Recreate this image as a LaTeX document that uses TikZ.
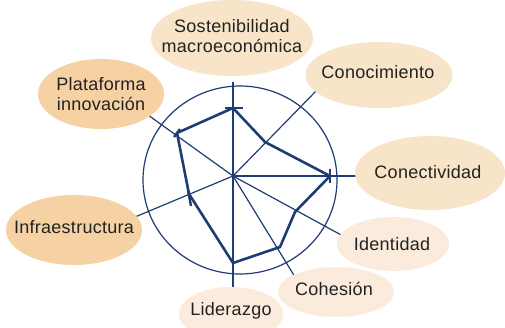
\documentclass[tikz,border=0pt]{standalone}
\usepackage{fontspec}
\setmainfont{Liberation Sans}[LetterSpace=1.5]
\usetikzlibrary{shapes.geometric}
\definecolor{navy}{HTML}{1F3C74}
\definecolor{beige}{HTML}{F8E4C8}
\definecolor{orangeb}{HTML}{F5D1A3}
\definecolor{lightb}{HTML}{FBEBDC}
\definecolor{txt}{HTML}{222222}
\tikzset{
  lab/.style={ellipse, inner sep=0pt, outer sep=0pt},
  labtext/.style={text=txt, align=center, inner sep=0pt,
    font=\fontsize{18}{20}\selectfont},
  axisline/.style={navy, line width=1.2pt},
  datapoly/.style={navy, line width=2.6pt, line join=round},
  tickmark/.style={navy, line width=2.4pt},
}
\begin{document}
\begin{tikzpicture}[x=1pt,y=-1pt]
\useasboundingbox (0,0) rectangle (505,328);
\fill[white] (0,0) rectangle (505,328);
% centre and axis end points
\coordinate (O) at (233,176);
\coordinate (eS) at (233,82);
\coordinate (eCo) at (318,89);
\coordinate (eCn) at (360,176);
\coordinate (eId) at (343,236);
\coordinate (eCh) at (295,277);
\coordinate (eLi) at (233,290);
\coordinate (eIn) at (135,217);
\coordinate (ePl) at (148,115);
% circle
\draw[axisline] (240,180) ellipse [x radius=97, y radius=94];
% axes
\foreach \e in {eS,eCo,eCn,eId,eCh,eLi,eIn,ePl}
  \draw[axisline] (O) -- (\e);
% data polygon
\coordinate (p1) at (233,108);
\coordinate (p2) at (265,142);
\coordinate (p3) at (330,176);
\coordinate (p4) at (295,212);
\coordinate (p5) at (280,247);
\coordinate (p6) at (233,263);
\coordinate (p7) at (189,194);
\coordinate (p8) at (177,133);
\draw[datapoly] (p1) -- (p2) -- (p3) -- (p4) -- (p5) -- (p6) -- (p7) -- (p8) -- cycle;
% ticks
\coordinate (t1a) at (225,108); \coordinate (t1b) at (243,108);
\coordinate (t3a) at (330,169); \coordinate (t3b) at (330,183);
\coordinate (t7a) at (188,190); \coordinate (t7b) at (191,206);
\coordinate (t8a) at (174,137); \coordinate (t8b) at (180,129);
\draw[tickmark] (t1a) -- (t1b);
\draw[tickmark] (t3a) -- (t3b);
\draw[tickmark] (t7a) -- (t7b);
\draw[tickmark] (t8a) -- (t8b);
% label ellipses
\node[lab, fill=beige, minimum width=162pt, minimum height=76pt] (sost) at (232,38) {};
\node[labtext] (sostT) at (232,36) {Sostenibilidad\\macroeconómica};
\node[lab, fill=beige, minimum width=147pt, minimum height=66pt] (cono) at (379,75) {};
\node[labtext] (conoT) at (378,72) {Conocimiento};
\node[lab, fill=orangeb, minimum width=126pt, minimum height=70pt] (plat) at (101,94) {};
\node[labtext] (platT) at (101,94) {Plataforma\\innovación};
\node[lab, fill=beige, minimum width=150pt, minimum height=74pt] (conec) at (430,173) {};
\node[labtext] (conecT) at (428,172) {Conectividad};
\node[lab, fill=orangeb, minimum width=136pt, minimum height=70pt] (infra) at (74,230) {};
\node[labtext] (infraT) at (74,227) {Infraestructura};
\node[lab, fill=lightb, minimum width=112pt, minimum height=54pt] (iden) at (393,244) {};
\node[labtext] (idenT) at (392,244) {Identidad};
\node[lab, fill=lightb, minimum width=116pt, minimum height=50pt] (cohe) at (336,292) {};
\node[labtext] (coheT) at (334,289) {Cohesión};
\node[lab, fill=lightb, minimum width=104pt, minimum height=54pt] (lide) at (231,314) {};
\node[labtext] (lideT) at (231,311) {Liderazgo};
\end{tikzpicture}
\end{document}
